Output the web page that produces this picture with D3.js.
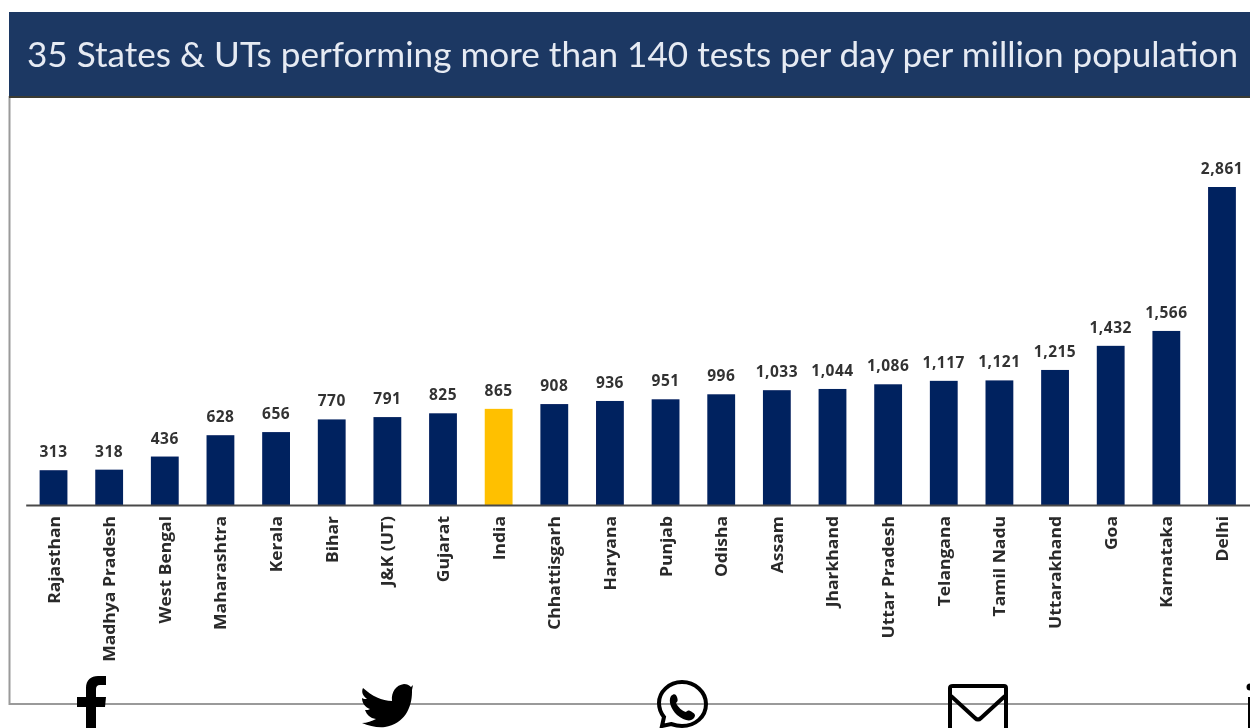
<!DOCTYPE html>
<html>
<head>
<meta charset="utf-8">
<script src="https://d3js.org/d3.v7.min.js"></script>
<style>
html, body { margin: 0; padding: 0; background: #fff; overflow: hidden; }
svg { display: block; }
text { font-family: "Open Sans", sans-serif; }
</style>
</head>
<body>
<svg id="chart" width="1250" height="728"></svg>
<script>
const titleText = "35 States & UTs performing more than 140 tests per day per million population";

const states = ["Rajasthan", "Madhya Pradesh", "West Bengal", "Maharashtra", "Kerala", "Bihar",
    "J&K (UT)", "Gujarat", "India", "Chhattisgarh", "Haryana", "Punjab", "Odisha", "Assam",
    "Jharkhand", "Uttar Pradesh", "Telangana", "Tamil Nadu", "Uttarakhand", "Goa", "Karnataka", "Delhi"];
const tests = [313, 318, 436, 628, 656, 770, 791, 825, 865, 908, 936, 951, 996, 1033, 1044,
    1086, 1117, 1121, 1215, 1432, 1566, 2861];
const highlight = "India";

const navy = "#04205f";
const svg = d3.select("#chart");

// slight softening, the source is a low quality screenshot
const defs = svg.append("defs");
defs.append("filter").attr("id", "soft")
    .append("feGaussianBlur").attr("stdDeviation", 0.55);

const x = d3.scaleBand().domain(states).range([25.7, 1249.8]).paddingInner(0.5).paddingOuter(0.25);
const y = d3.scaleLinear().domain([0, 2861]).range([505, 187]);

const page = svg.append("g").attr("filter", "url(#soft)");

// frame
page.append("rect").attr("x", 9.5).attr("y", 97).attr("width", 1260).attr("height", 607)
    .attr("fill", "#fff").attr("stroke", "#9a9a9a").attr("stroke-width", 2);

// title band
page.append("rect").attr("x", 9).attr("y", 12).attr("width", 1241).attr("height", 84).attr("fill", "#1f3864");
page.append("rect").attr("x", 9).attr("y", 96).attr("width", 1241).attr("height", 2).attr("fill", "#3a3a30");
page.append("text").attr("x", 27).attr("y", 67)
    .attr("textLength", 1211).attr("lengthAdjust", "spacingAndGlyphs")
    .style("font-family", "Lato, sans-serif")
    .attr("font-size", 34).attr("fill", "#e6ebf3")
    .text(titleText);

// bars
page.selectAll("rect.bar").data(states).enter().append("rect")
    .attr("class", "bar")
    .attr("x", d => x(d))
    .attr("y", (d, i) => y(tests[i]))
    .attr("width", x.bandwidth())
    .attr("height", (d, i) => y(0) - y(tests[i]))
    .attr("fill", d => d === highlight ? "#ffc000" : navy);

// value labels
page.selectAll("text.value").data(states).enter().append("text")
    .attr("class", "value")
    .attr("x", d => x(d) + x.bandwidth() / 2)
    .attr("y", (d, i) => y(tests[i]) - 13)
    .attr("text-anchor", "middle")
    .attr("font-size", 15.5).attr("font-weight", 700).attr("fill", "#333")
    .attr("letter-spacing", 0.5)
    .text((d, i) => d3.format(",")(tests[i]));

// category axis
const axis = page.append("g").attr("transform", "translate(0,505)")
    .call(d3.axisBottom(x).tickSize(0).tickPadding(0));
axis.select(".domain").attr("stroke", "#4a4a4a").attr("stroke-width", 2);
axis.selectAll("text")
    .attr("font-size", 15.5).attr("font-weight", 700).attr("fill", "#2b2b2b")
    .style("font-family", "'Open Sans', sans-serif")
    .attr("text-anchor", "end")
    .attr("dy", 0).attr("y", 0)
    .attr("transform", "translate(6,11) rotate(-90) scale(1.13,1)");

// share icons, they sit over the frame
const icons = svg.append("g").attr("fill", "#000");
icons.append("path").attr("d", "M86 728V707H77V697H86V688C86 680 91 676 98 676H106V685H100C97 685 96 687 96 689V697H106L105 707H96V728Z");
icons.append("path").attr("d", "M363 688C372 696 382 701 392 701C391 692 396 685 404 684C407 684 409 685 411 687L413 685L412 690L412 692C412 708 404 724 385 727C378 728 369 726 362 723C367 723 372 721 376 719C370 718 367 715 365 710C367 710 369 710 370 709C365 707 362 703 362 698C363 699 365 699 367 699C363 696 361 692 363 688Z");
icons.append("path").attr("fill", "none").attr("stroke", "#000").attr("stroke-width", 4)
    .attr("d", "M662 726L664 717C660 712 659 708 659 703C659 692 669 682 682 682C695 682 706 692 706 704C706 717 695 726 682 726C678 726 674 725 671 724Z");
icons.append("path").attr("d", "M671 696C674 693 676 694 677 697C678 700 678 701 676 703C678 707 682 711 686 712C688 710 689 710 692 712C695 714 696 715 694 718C691 722 684 721 677 715C671 709 668 701 671 696Z");
icons.append("path").attr("fill", "none").attr("stroke", "#000").attr("stroke-width", 4).attr("stroke-linejoin", "round")
    .attr("d", "M950 728V688C950 686 951 686 953 686H1004C1006 686 1006 686 1006 688V728M951 696L975 718C977 720 979 720 981 718L1005 696");
icons.append("rect").attr("x", 1248).attr("y", 697).attr("width", 2).attr("height", 31);
icons.append("circle").attr("cx", 1250).attr("cy", 687).attr("r", 3.5);
</script>
</body>
</html>
